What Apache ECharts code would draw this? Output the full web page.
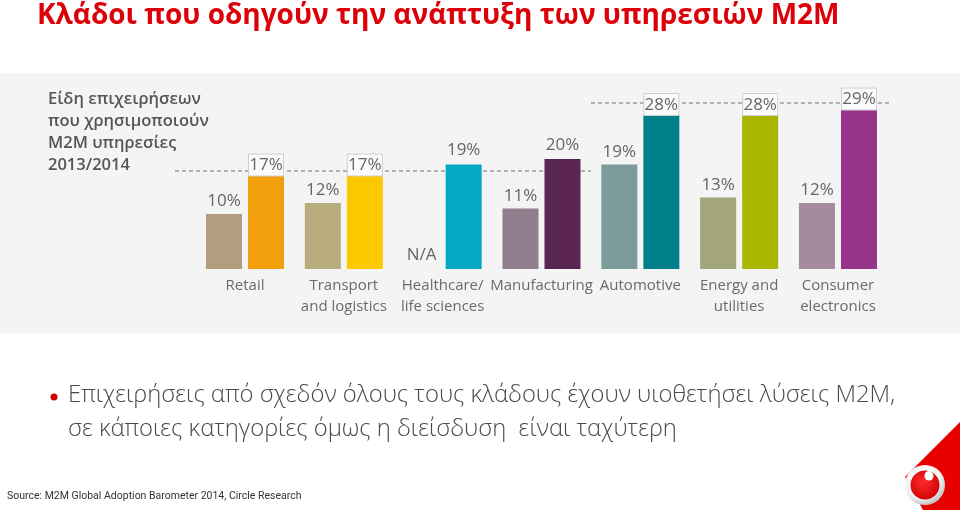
<!DOCTYPE html>
<html>
<head>
<meta charset="utf-8">
<script src="https://cdn.jsdelivr.net/npm/echarts@6/dist/echarts.min.js"></script>
<style>
html,body{margin:0;padding:0;background:#fff;}
#c{width:960px;height:510px;}
</style>
</head>
<body>
<div id="c"></div>
<script>
// ---- data ----
var categories = ['Retail', 'Transport\nand logistics', 'Healthcare/\nlife sciences', 'Manufacturing', 'Automotive', 'Energy and\nutilities', 'Consumer\nelectronics'];
var values2013 = [10, 12, null, 11, 19, 13, 12];
var values2014 = [17, 17, 19, 20, 28, 28, 29];
var colors2013 = ['#b49d7e', '#b9ad7d', '#9fb8c0', '#8f7e8b', '#7b9c9b', '#a3a57d', '#a48ba0'];
var colors2014 = ['#f29f0d', '#fbc900', '#04a8c3', '#5b2553', '#00808a', '#a9b500', '#98338c'];
var boxed2014 = [true, true, false, false, true, true, true];
var dashLevels = [17.8, 30.2];

var FONT = '"Open Sans", "DejaVu Sans", sans-serif';
var chart = echarts.init(document.getElementById('c'), null, {renderer: 'canvas'});

var s2013 = values2013.map(function (v, i) {
  if (v === null) {
    return {value: 0, itemStyle: {color: colors2013[i]},
      label: {formatter: 'N/A', distance: 5}};
  }
  return {value: v, itemStyle: {color: colors2013[i]}};
});
var s2014 = values2014.map(function (v, i) {
  var d = {value: v, itemStyle: {color: colors2014[i]}};
  if (!boxed2014[i]) {
    d.label = {backgroundColor: 'transparent', borderWidth: 0, distance: 4};
  }
  return d;
});

var option = {
  backgroundColor: '#ffffff',
  animation: false,
  grid: {left: 195.6, width: 691.8, top: 71, height: 198, containLabel: false},
  xAxis: {
    type: 'category',
    data: categories,
    axisLine: {show: false},
    axisTick: {show: false},
    axisLabel: {color: '#6b6b6b', fontFamily: FONT, fontSize: 15, lineHeight: 21, margin: 6, interval: 0}
  },
  yAxis: {
    type: 'value', min: 0, max: 36,
    show: false, splitLine: {show: false}
  },
  series: [
    {
      type: 'bar', name: '2013', data: s2013, barWidth: 36, barGap: '16.7%', z: 3,
      label: {show: true, position: 'top', distance: 4, color: '#666', fontFamily: FONT, fontSize: 17,
        formatter: '{c}%'}
    },
    {
      type: 'bar', name: '2014', data: s2014, barWidth: 36, z: 3,
      label: {show: true, position: 'top', distance: 0, color: '#666', fontFamily: FONT, fontSize: 17,
        formatter: '{c}%', backgroundColor: '#fafafa', borderColor: '#cfcfcf', borderWidth: 1,
        width: 34, align: 'center', padding: [1, 0, 0, 0], lineHeight: 20}
    }
  ]
};
chart.setOption(option);

var yL1 = chart.convertToPixel({yAxisIndex: 0}, dashLevels[0]);
var yL2 = chart.convertToPixel({yAxisIndex: 0}, dashLevels[1]);
var splitX = (chart.convertToPixel({xAxisIndex: 0}, 3) + chart.convertToPixel({xAxisIndex: 0}, 4)) / 2;

chart.setOption({
  graphic: [
    {type: 'rect', z: -10, silent: true, shape: {x: 0, y: 73, width: 960, height: 260}, style: {fill: '#f4f4f4'}},
    {type: 'line', z: 1, silent: true, shape: {x1: 175, y1: yL1, x2: splitX, y2: yL1},
      style: {stroke: '#9a9a9a', lineWidth: 1.5, lineDash: [4, 3]}},
    {type: 'line', z: 1, silent: true, shape: {x1: splitX, y1: yL2, x2: 890, y2: yL2},
      style: {stroke: '#9a9a9a', lineWidth: 1.5, lineDash: [4, 3]}},
    {type: 'text', z: 5, left: 37, top: 2,
      style: {text: 'Κλάδοι που οδηγούν την ανάπτυξη των υπηρεσιών M2M', fill: '#dc0008',
        font: 'bold 28px ' + FONT}},
    {type: 'text', z: 5, left: 48, top: 88,
      style: {text: 'Είδη επιχειρήσεων\nπου χρησιμοποιούν\nM2M υπηρεσίες\n2013/2014', fill: '#555',
        font: '600 16.5px ' + FONT, lineHeight: 22}},
    {type: 'circle', z: 5, shape: {cx: 54, cy: 397, r: 3.5}, style: {fill: '#d00000'}},
    {type: 'text', z: 5, left: 68, top: 378,
      style: {text: 'Επιχειρήσεις από σχεδόν όλους τους κλάδους έχουν υιοθετήσει λύσεις M2M,\nσε κάποιες κατηγορίες όμως η διείσδυση  είναι ταχύτερη',
        fill: '#4a4a4a', font: '300 23.8px ' + FONT, lineHeight: 34}},
    {type: 'text', z: 5, left: 7, top: 491,
      style: {text: 'Source: M2M Global Adoption Barometer 2014, Circle Research', fill: '#333',
        font: '10.5px Roboto, ' + FONT}},
    {type: 'polygon', z: 5, shape: {points: [[960, 422], [905, 477], [923, 510], [960, 510]]}, style: {fill: '#e60000'}},
    {type: 'circle', z: 6, shape: {cx: 925, cy: 485, r: 20},
      style: {fill: {type: 'radial', x: 0.4, y: 0.35, r: 0.7, colorStops: [{offset: 0, color: '#ffffff'}, {offset: 0.7, color: '#f0f0f0'}, {offset: 1, color: '#b8b8b8'}]}}},
    {type: 'circle', z: 7, shape: {cx: 925, cy: 485, r: 14.5},
      style: {fill: {type: 'radial', x: 0.45, y: 0.4, r: 0.7, colorStops: [{offset: 0, color: '#ff2a2a'}, {offset: 1, color: '#c80000'}]}}},
    {type: 'circle', z: 8, shape: {cx: 929, cy: 476, r: 4.5}, style: {fill: '#ffffff'}},
    {type: 'polygon', z: 8, shape: {points: [[925, 473], [932, 468], [927, 479]]}, style: {fill: '#ffffff'}}
  ]
});
</script>
</body>
</html>
